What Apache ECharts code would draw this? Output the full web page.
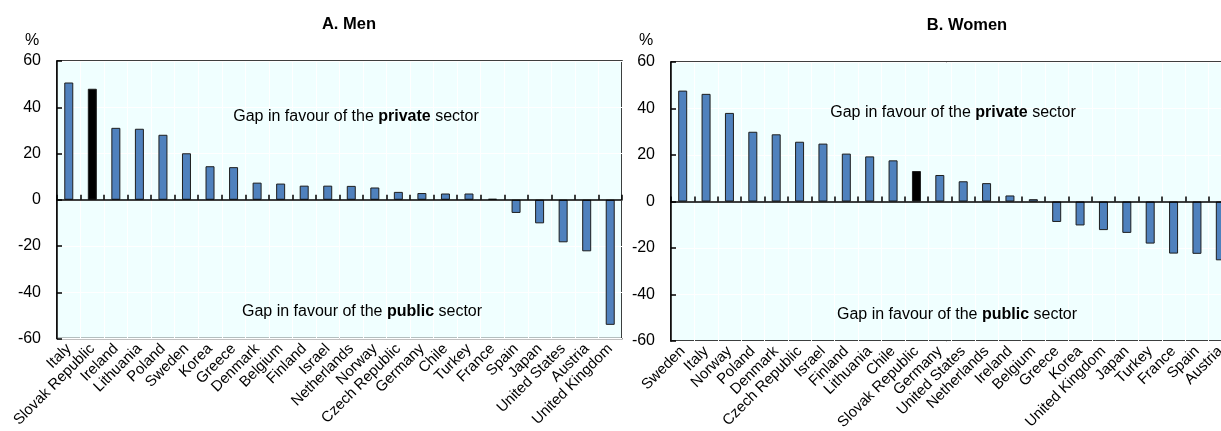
<!DOCTYPE html>
<html>
<head>
<meta charset="utf-8">
<script src="https://cdn.jsdelivr.net/npm/echarts@6/dist/echarts.min.js"></script>
<style>
  html, body { margin: 0; padding: 0; background: #fff; }
  #chart { width: 1221px; height: 431px; }
</style>
</head>
<body>
<div id="chart"></div>
<script>
// Wage gap between private and public sector employees, by country (%)
const menCountries = ['Italy', 'Slovak Republic', 'Ireland', 'Lithuania', 'Poland', 'Sweden', 'Korea', 'Greece',
  'Denmark', 'Belgium', 'Finland', 'Israel', 'Netherlands', 'Norway', 'Czech Republic', 'Germany', 'Chile',
  'Turkey', 'France', 'Spain', 'Japan', 'United States', 'Austria', 'United Kingdom'];
const menGap = [50.7, 48.0, 31.1, 30.7, 28.1, 20.1, 14.5, 14.1, 7.4, 7.0, 6.1, 6.1, 6.0, 5.3, 3.4, 2.9, 2.7,
  2.7, 0.4, -5.7, -10.2, -18.4, -22.3, -54.1];

const womenCountries = ['Sweden', 'Italy', 'Norway', 'Poland', 'Denmark', 'Czech Republic', 'Israel', 'Finland',
  'Lithuania', 'Chile', 'Slovak Republic', 'Germany', 'United States', 'Netherlands', 'Ireland', 'Belgium',
  'Greece', 'Korea', 'United Kingdom', 'Japan', 'Turkey', 'France', 'Spain', 'Austria'];
const womenGap = [47.7, 46.3, 38.1, 30.0, 28.9, 25.7, 24.9, 20.6, 19.4, 17.7, 13.1, 11.4, 8.7, 7.9, 2.6, 1.0,
  -8.8, -10.3, -12.3, -13.5, -18.1, -22.4, -22.5, -25.3];

const yMin = -60, yMax = 60, yStep = 20;
const highlightCountry = 'Slovak Republic';

const panelTitles = ['A. Men', 'B. Women'];
const privateNote = ['Gap in favour of the ', 'private', ' sector'];
const publicNote = ['Gap in favour of the ', 'public', ' sector'];

const FONT = "'Liberation Sans', Arial, Helvetica, sans-serif";
const BAR = '#4f81bd';
const PLOT_BG = '#f0ffff';

const grids = [
  { left: 57, top: 61, width: 565, height: 277.5 },
  { left: 671, top: 62, width: 561, height: 279 }
];

function gridOpt(g) {
  return Object.assign({
    show: true, backgroundColor: PLOT_BG, borderColor: '#000', borderWidth: 1.5,
    containLabel: false, outerBoundsMode: 'none'
  }, g);
}

// bottom axis: country names and the white vertical grid lines
function labelAxis(cats, gi) {
  return {
    type: 'category', gridIndex: gi, data: cats, position: 'bottom', z: 0,
    axisLine: { show: false, onZero: false },
    axisTick: { show: false },
    axisLabel: {
      interval: 0, rotate: 45, margin: 8, color: '#000', fontSize: 15, fontFamily: FONT,
      hideOverlap: false
    },
    splitLine: { show: true, interval: 0, lineStyle: { color: '#ffffff', width: 1 } }
  };
}

// zero line with short upward ticks between the bars
function zeroAxis(cats, gi) {
  return {
    type: 'category', gridIndex: gi, data: cats, position: 'bottom', z: 4,
    axisLine: { show: true, onZero: true, lineStyle: { color: '#000', width: 1.5 } },
    axisTick: { show: true, inside: true, length: 5, interval: 0, lineStyle: { color: '#000', width: 1.5 } },
    axisLabel: { show: false },
    splitLine: { show: false }
  };
}

// value axis with labels and inward ticks
function valueAxis(gi) {
  return {
    type: 'value', gridIndex: gi, min: yMin, max: yMax, interval: yStep, position: 'left', z: 4,
    axisLine: { show: true, lineStyle: { color: '#000', width: 1.5 } },
    axisTick: { show: true, inside: true, length: 5, lineStyle: { color: '#000', width: 1.5 } },
    axisLabel: { color: '#000', fontSize: 16, fontFamily: FONT, margin: 16 },
    splitLine: { show: false }
  };
}

// companion value axis that only draws the white horizontal grid lines
function gridLineAxis(gi) {
  return {
    type: 'value', gridIndex: gi, min: yMin, max: yMax, interval: yStep, position: 'left', z: 0,
    axisLine: { show: false }, axisTick: { show: false }, axisLabel: { show: false },
    splitLine: { show: true, lineStyle: { color: '#ffffff', width: 1 } }
  };
}

function barSeries(cats, vals, xIdx, yIdx) {
  return {
    type: 'bar', xAxisIndex: xIdx, yAxisIndex: yIdx, barWidth: 9, z: 2,
    data: vals.map((v, i) => ({
      value: v,
      itemStyle: { color: cats[i] === highlightCountry ? '#000000' : BAR }
    })),
    itemStyle: { borderColor: '#1e1e1e', borderWidth: 1 },
    emphasis: { disabled: true },
    animation: false
  };
}

function text(x, y, str, opts) {
  return {
    type: 'text', x: x, y: y, silent: true, z: 100,
    style: Object.assign({
      text: str, fontFamily: FONT, fontSize: 16, fill: '#000',
      align: 'center', verticalAlign: 'middle', textAlign: 'center', textVerticalAlign: 'middle'
    }, opts || {})
  };
}

function noteText(x, y, parts) {
  return text(x, y, '{n|' + parts[0] + '}{b|' + parts[1] + '}{n|' + parts[2] + '}', {
    rich: {
      n: { fontFamily: FONT, fontSize: 16, fill: '#000', color: '#000' },
      b: { fontFamily: FONT, fontSize: 16, fontWeight: 'bold', fill: '#000', color: '#000' }
    }
  });
}

const chart = echarts.init(document.getElementById('chart'), null, { renderer: 'canvas' });
chart.setOption({
  animation: false,
  backgroundColor: '#ffffff',
  grid: grids.map(gridOpt),
  xAxis: [
    labelAxis(menCountries, 0), zeroAxis(menCountries, 0),
    labelAxis(womenCountries, 1), zeroAxis(womenCountries, 1)
  ],
  yAxis: [valueAxis(0), valueAxis(1), gridLineAxis(0), gridLineAxis(1)],
  series: [
    barSeries(menCountries, menGap, 0, 0),
    barSeries(womenCountries, womenGap, 2, 1)
  ],
  graphic: [
    text(349, 24, panelTitles[0], { fontWeight: 'bold', fontSize: 16.5 }),
    text(967, 25, panelTitles[1], { fontWeight: 'bold', fontSize: 16.5 }),
    text(32, 41, '%'),
    text(646, 41, '%'),
    noteText(356, 117, privateNote),
    noteText(362, 312, publicNote),
    noteText(953, 113, privateNote),
    noteText(957, 315, publicNote)
  ]
});
</script>
</body>
</html>
